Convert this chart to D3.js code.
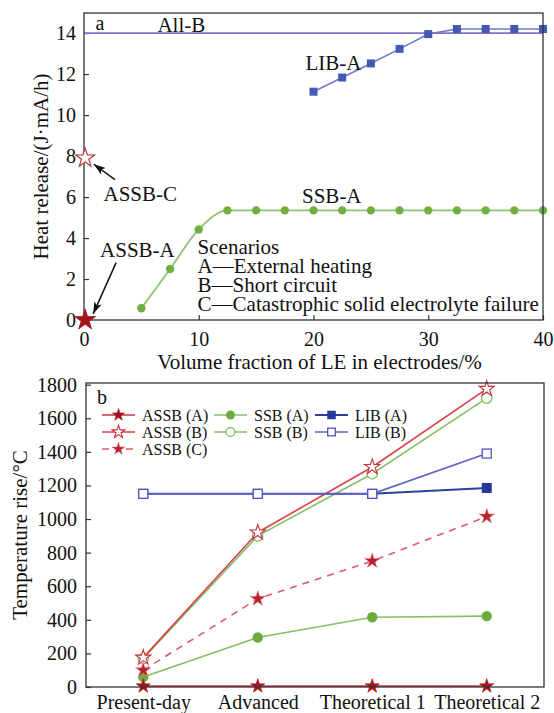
<!DOCTYPE html>
<html>
<head>
<meta charset="utf-8">
<script src="https://cdn.jsdelivr.net/npm/d3@7"></script>
<style>
  body { margin: 0; background: #fff; }
  svg text { font-family: "Liberation Serif", "Tinos", "DejaVu Serif", serif !important; fill: #111; }
</style>
</head>
<body>
<svg id="chart" width="554" height="713"></svg>
<script>
// ---------- data: panel a (heat release vs. LE fraction) ----------
const volTicks = [0, 10, 20, 30, 40];
const heatTicks = [0, 2, 4, 6, 8, 10, 12, 14];
const ssbAFrac = [5, 7.5, 10, 12.5, 15, 17.5, 20, 22.5, 25, 27.5, 30, 32.5, 35, 37.5, 40];
const ssbAHeat = [0.57, 2.49, 4.42, 5.35, 5.35, 5.35, 5.35, 5.35, 5.35, 5.35, 5.35, 5.35, 5.35, 5.35, 5.35];
const libAFrac = [20, 22.5, 25, 27.5, 30, 32.5, 35, 37.5, 40];
const libAHeat = [11.14, 11.83, 12.52, 13.23, 13.95, 14.2, 14.2, 14.2, 14.2];
const allBHeat = 14;
const assbAPoint = [0.1, 0];
const assbCPoint = [0.1, 7.9];
const scenarioLines = ["Scenarios", "A\u2014External heating", "B\u2014Short circuit",
  "C\u2014Catastrophic solid electrolyte failure"];

// ---------- data: panel b (temperature rise by development stage) ----------
const stages = ["Present-day", "Advanced", "Theoretical 1", "Theoretical 2"];
const tempTicks = [0, 200, 400, 600, 800, 1000, 1200, 1400, 1600, 1800];
const assbATemp = [5, 5, 5, 5];
const assbBTemp = [175, 920, 1310, 1775];
const assbCTemp = [100, 525, 750, 1015];
const ssbATemp = [60, 295, 415, 422];
const ssbBTemp = [170, 900, 1270, 1720];
const libATemp = [1150, 1150, 1150, 1185];
const libBTemp = [1150, 1150, 1150, 1390];

const svg = d3.select("#chart");
const DARK_RED = "#a3141f";
const TICK_FONT = 20, LABEL_FONT = 21;
const SERIF = '"Liberation Serif", "Tinos", "DejaVu Serif", serif';

function starPath(R) {
  const r = R * 0.382;
  let p = "";
  for (let i = 0; i < 10; i++) {
    const a = -Math.PI / 2 + i * Math.PI / 5;
    const rad = i % 2 ? r : R;
    p += (i ? "L" : "M") + (rad * Math.cos(a)).toFixed(2) + "," + (rad * Math.sin(a)).toFixed(2);
  }
  return p + "Z";
}

svg.append("defs").append("marker")
  .attr("id", "arrowHead").attr("viewBox", "0 0 12 8")
  .attr("refX", 12).attr("refY", 4)
  .attr("markerWidth", 12).attr("markerHeight", 8)
  .attr("markerUnits", "userSpaceOnUse").attr("orient", "auto")
  .append("path").attr("d", "M0,0 L12,4 L0,8 L3,4 Z").attr("fill", "#111");

function styleAxis(g) {
  g.attr("font-family", SERIF).attr("font-size", TICK_FONT);
  g.select(".domain").remove();
  g.selectAll(".tick line").attr("stroke", "#333").attr("stroke-width", 1.2);
  g.selectAll(".tick text").attr("fill", "#111");
}

// ================= panel a =================
const A = { left: 84, right: 543, top: 13, bottom: 320 };
const xa = d3.scaleLinear().domain([0, 40]).range([A.left, A.right]);
const ya = d3.scaleLinear().domain([0, 14.98]).range([A.bottom, A.top]);
const pa = svg.append("g").attr("font-family", SERIF);

pa.append("g").attr("transform", `translate(${A.left},0)`)
  .call(d3.axisLeft(ya).tickValues(heatTicks).tickFormat(d3.format("d"))
    .tickSizeInner(-5).tickSizeOuter(0).tickPadding(8))
  .call(styleAxis);
pa.append("g").attr("transform", `translate(0,${A.bottom})`)
  .call(d3.axisBottom(xa).tickValues(volTicks).tickFormat(d3.format("d"))
    .tickSizeInner(-5).tickSizeOuter(0).tickPadding(12))
  .call(styleAxis);

// All-B reference level
pa.append("line")
  .attr("x1", xa(0)).attr("x2", xa(40)).attr("y1", ya(allBHeat)).attr("y2", ya(allBHeat))
  .attr("stroke", "#7c72d0").attr("stroke-width", 1.6);

// SSB-A curve
const ssbA = ssbAFrac.map((x, i) => [x, ssbAHeat[i]]);
pa.append("path").datum(ssbA)
  .attr("d", d3.line().x(d => xa(d[0])).y(d => ya(d[1])).curve(d3.curveMonotoneX))
  .attr("fill", "none").attr("stroke", "#8dc470").attr("stroke-width", 1.8);
pa.selectAll(".ssbA").data(ssbA).join("circle")
  .attr("cx", d => xa(d[0])).attr("cy", d => ya(d[1])).attr("r", 4.2)
  .attr("fill", "#72af42");

// LIB-A line
const libA = libAFrac.map((x, i) => [x, libAHeat[i]]);
pa.append("path").datum(libA)
  .attr("d", d3.line().x(d => xa(d[0])).y(d => ya(d[1])))
  .attr("fill", "none").attr("stroke", "#6f7bd0").attr("stroke-width", 1.6);
pa.selectAll(".libA").data(libA).join("rect")
  .attr("x", d => xa(d[0]) - 4).attr("y", d => ya(d[1]) - 4)
  .attr("width", 8).attr("height", 8).attr("fill", "#4458b5");

// frame
pa.append("rect").attr("x", A.left).attr("y", A.top)
  .attr("width", A.right - A.left).attr("height", A.bottom - A.top)
  .attr("fill", "none").attr("stroke", "#333").attr("stroke-width", 1.3);

// ASSB points
pa.append("path").attr("d", starPath(11))
  .attr("transform", `translate(${xa(assbAPoint[0])},${ya(assbAPoint[1])})`)
  .attr("fill", DARK_RED).attr("stroke", DARK_RED).attr("stroke-width", 0.8);
pa.append("path").attr("d", starPath(10))
  .attr("transform", `translate(${xa(assbCPoint[0])},${ya(assbCPoint[1])})`)
  .attr("fill", "#fff").attr("stroke", "#b02a30").attr("stroke-width", 1.1);

// arrows
function arrow(x1, y1, x2, y2) {
  pa.append("line").attr("x1", xa(x1)).attr("y1", ya(y1)).attr("x2", xa(x2)).attr("y2", ya(y2))
    .attr("stroke", "#111").attr("stroke-width", 1.5).attr("marker-end", "url(#arrowHead)");
}
arrow(2.7, 6.85, 0.85, 7.6);
arrow(2.8, 2.8, 0.8, 0.3);

function note(text, x, y, size) {
  pa.append("text").attr("x", xa(x)).attr("y", ya(y)).attr("dy", "0.35em")
    .attr("font-size", size || LABEL_FONT).text(text);
}
note("a", 1.0, 14.5, 20);
note("All-B", 6.4, 14.42);
note("LIB-A", 19.3, 12.56);
note("SSB-A", 19.0, 6.07);
note("ASSB-C", 1.7, 6.15);
note("ASSB-A", 1.4, 3.44);
const scenarioY = [3.57, 2.64, 1.72, 0.82];
scenarioLines.forEach((t, i) => note(t, 9.9, scenarioY[i]));

// axis titles
pa.append("text").attr("x", (A.left + A.right) / 2 + 6).attr("y", 362).attr("dy", "0.35em")
  .attr("text-anchor", "middle").attr("font-size", LABEL_FONT)
  .text("Volume fraction of LE in electrodes/%");
pa.append("text").attr("transform", `translate(41,${(A.top + A.bottom) / 2}) rotate(-90)`)
  .attr("dy", "0.35em").attr("text-anchor", "middle").attr("font-size", LABEL_FONT)
  .text("Heat release/(J\u00b7mA/h)");

// ================= panel b =================
const B = { left: 86, right: 544, top: 383, bottom: 687 };
const xb = d3.scalePoint().domain(stages).range([B.left, B.right]).padding(0.5);
const yb = d3.scaleLinear().domain([0, 1810]).range([B.bottom, B.top]);
const pb = svg.append("g").attr("font-family", SERIF);

pb.append("g").attr("transform", `translate(${B.left},0)`)
  .call(d3.axisLeft(yb).tickValues(tempTicks).tickFormat(d3.format("d"))
    .tickSizeInner(-5).tickSizeOuter(0).tickPadding(9))
  .call(styleAxis);
pb.append("g").attr("transform", `translate(0,${B.bottom})`)
  .call(d3.axisBottom(xb).tickSizeInner(0).tickSizeOuter(0).tickPadding(8))
  .call(styleAxis);

const series = [
  { name: "SSB (A)", values: ssbATemp, line: "#84c064", mark: "dot", color: "#6cab3c" },
  { name: "SSB (B)", values: ssbBTemp, line: "#84c064", mark: "ring", color: "#7cbc5c" },
  { name: "ASSB (C)", values: assbCTemp, line: "#e05a68", mark: "starC", color: DARK_RED, dash: "7,6" },
  { name: "ASSB (B)", values: assbBTemp, line: "#d9404c", mark: "starOpen", color: "#c8323c" },
  { name: "ASSB (A)", values: assbATemp, line: "#cf3440", mark: "starFill", color: DARK_RED },
  { name: "LIB (A)", values: libATemp, line: "#2c3f9f", mark: "sqFill", color: "#24389c", width: 2 },
  { name: "LIB (B)", values: libBTemp, line: "#5d65c6", mark: "sqOpen", color: "#5058c0" }
];

function drawMark(g, kind, color, x, y, small) {
  const s = small ? 0.85 : 1;
  if (kind === "dot") g.append("circle").attr("cx", x).attr("cy", y).attr("r", 5.2 * s).attr("fill", color);
  else if (kind === "ring") g.append("circle").attr("cx", x).attr("cy", y).attr("r", 5.2 * s)
    .attr("fill", "#fff").attr("stroke", color).attr("stroke-width", 1.2);
  else if (kind === "starFill") g.append("path").attr("d", starPath(7.5 * s))
    .attr("transform", `translate(${x},${y})`).attr("fill", color).attr("stroke", color).attr("stroke-width", 0.6);
  else if (kind === "starOpen") g.append("path").attr("d", starPath(8 * s))
    .attr("transform", `translate(${x},${y})`).attr("fill", "#fff").attr("stroke", color).attr("stroke-width", 1.1);
  else if (kind === "starC") g.append("path").attr("d", starPath(8 * s))
    .attr("transform", `translate(${x},${y})`).attr("fill", "#b7242f").attr("stroke", "#ec8a92")
    .attr("stroke-width", 1).attr("stroke-dasharray", "2,1.5");
  else if (kind === "sqFill") g.append("rect").attr("x", x - 5 * s).attr("y", y - 5 * s)
    .attr("width", 10 * s).attr("height", 10 * s).attr("fill", color);
  else if (kind === "sqOpen") g.append("rect").attr("x", x - 4.5 * s).attr("y", y - 4.5 * s)
    .attr("width", 9 * s).attr("height", 9 * s).attr("fill", "#fff").attr("stroke", color).attr("stroke-width", 1.3);
}

series.forEach(s => {
  const pts = stages.map((c, i) => [xb(c), yb(s.values[i])]);
  pb.append("path").datum(pts).attr("d", d3.line())
    .attr("fill", "none").attr("stroke", s.line).attr("stroke-width", s.width || 1.6)
    .attr("stroke-dasharray", s.dash || null);
  const g = pb.append("g");
  pts.forEach(p => drawMark(g, s.mark, s.color, p[0], p[1], false));
});

// frame
pb.append("rect").attr("x", B.left).attr("y", B.top)
  .attr("width", B.right - B.left).attr("height", B.bottom - B.top)
  .attr("fill", "none").attr("stroke", "#333").attr("stroke-width", 1.3);

pb.append("text").attr("x", 97).attr("y", 397).attr("dy", "0.35em").attr("font-size", 20).text("b");

// legend
const legendCols = [
  { x: 102, names: ["ASSB (A)", "ASSB (B)", "ASSB (C)"] },
  { x: 214, names: ["SSB (A)", "SSB (B)"] },
  { x: 315, names: ["LIB (A)", "LIB (B)"] }
];
const legendRows = [415, 432, 449];
legendCols.forEach(col => {
  col.names.forEach((n, r) => {
    const s = series.find(d => d.name === n);
    const y = legendRows[r];
    const g = pb.append("g");
    g.append("line").attr("x1", col.x).attr("x2", col.x + 33).attr("y1", y).attr("y2", y)
      .attr("stroke", s.line).attr("stroke-width", s.width || 1.6)
      .attr("stroke-dasharray", s.dash ? "7,5" : null);
    drawMark(g, s.mark, s.color, col.x + 16.5, y, true);
    g.append("text").attr("x", col.x + 40).attr("y", y).attr("dy", "0.35em")
      .attr("font-size", 16).text(n);
  });
});

pb.append("text").attr("transform", `translate(20,${(B.top + B.bottom) / 2}) rotate(-90)`)
  .attr("dy", "0.35em").attr("text-anchor", "middle").attr("font-size", LABEL_FONT)
  .text("Temperature rise/\u00b0C");
</script>
</body>
</html>
